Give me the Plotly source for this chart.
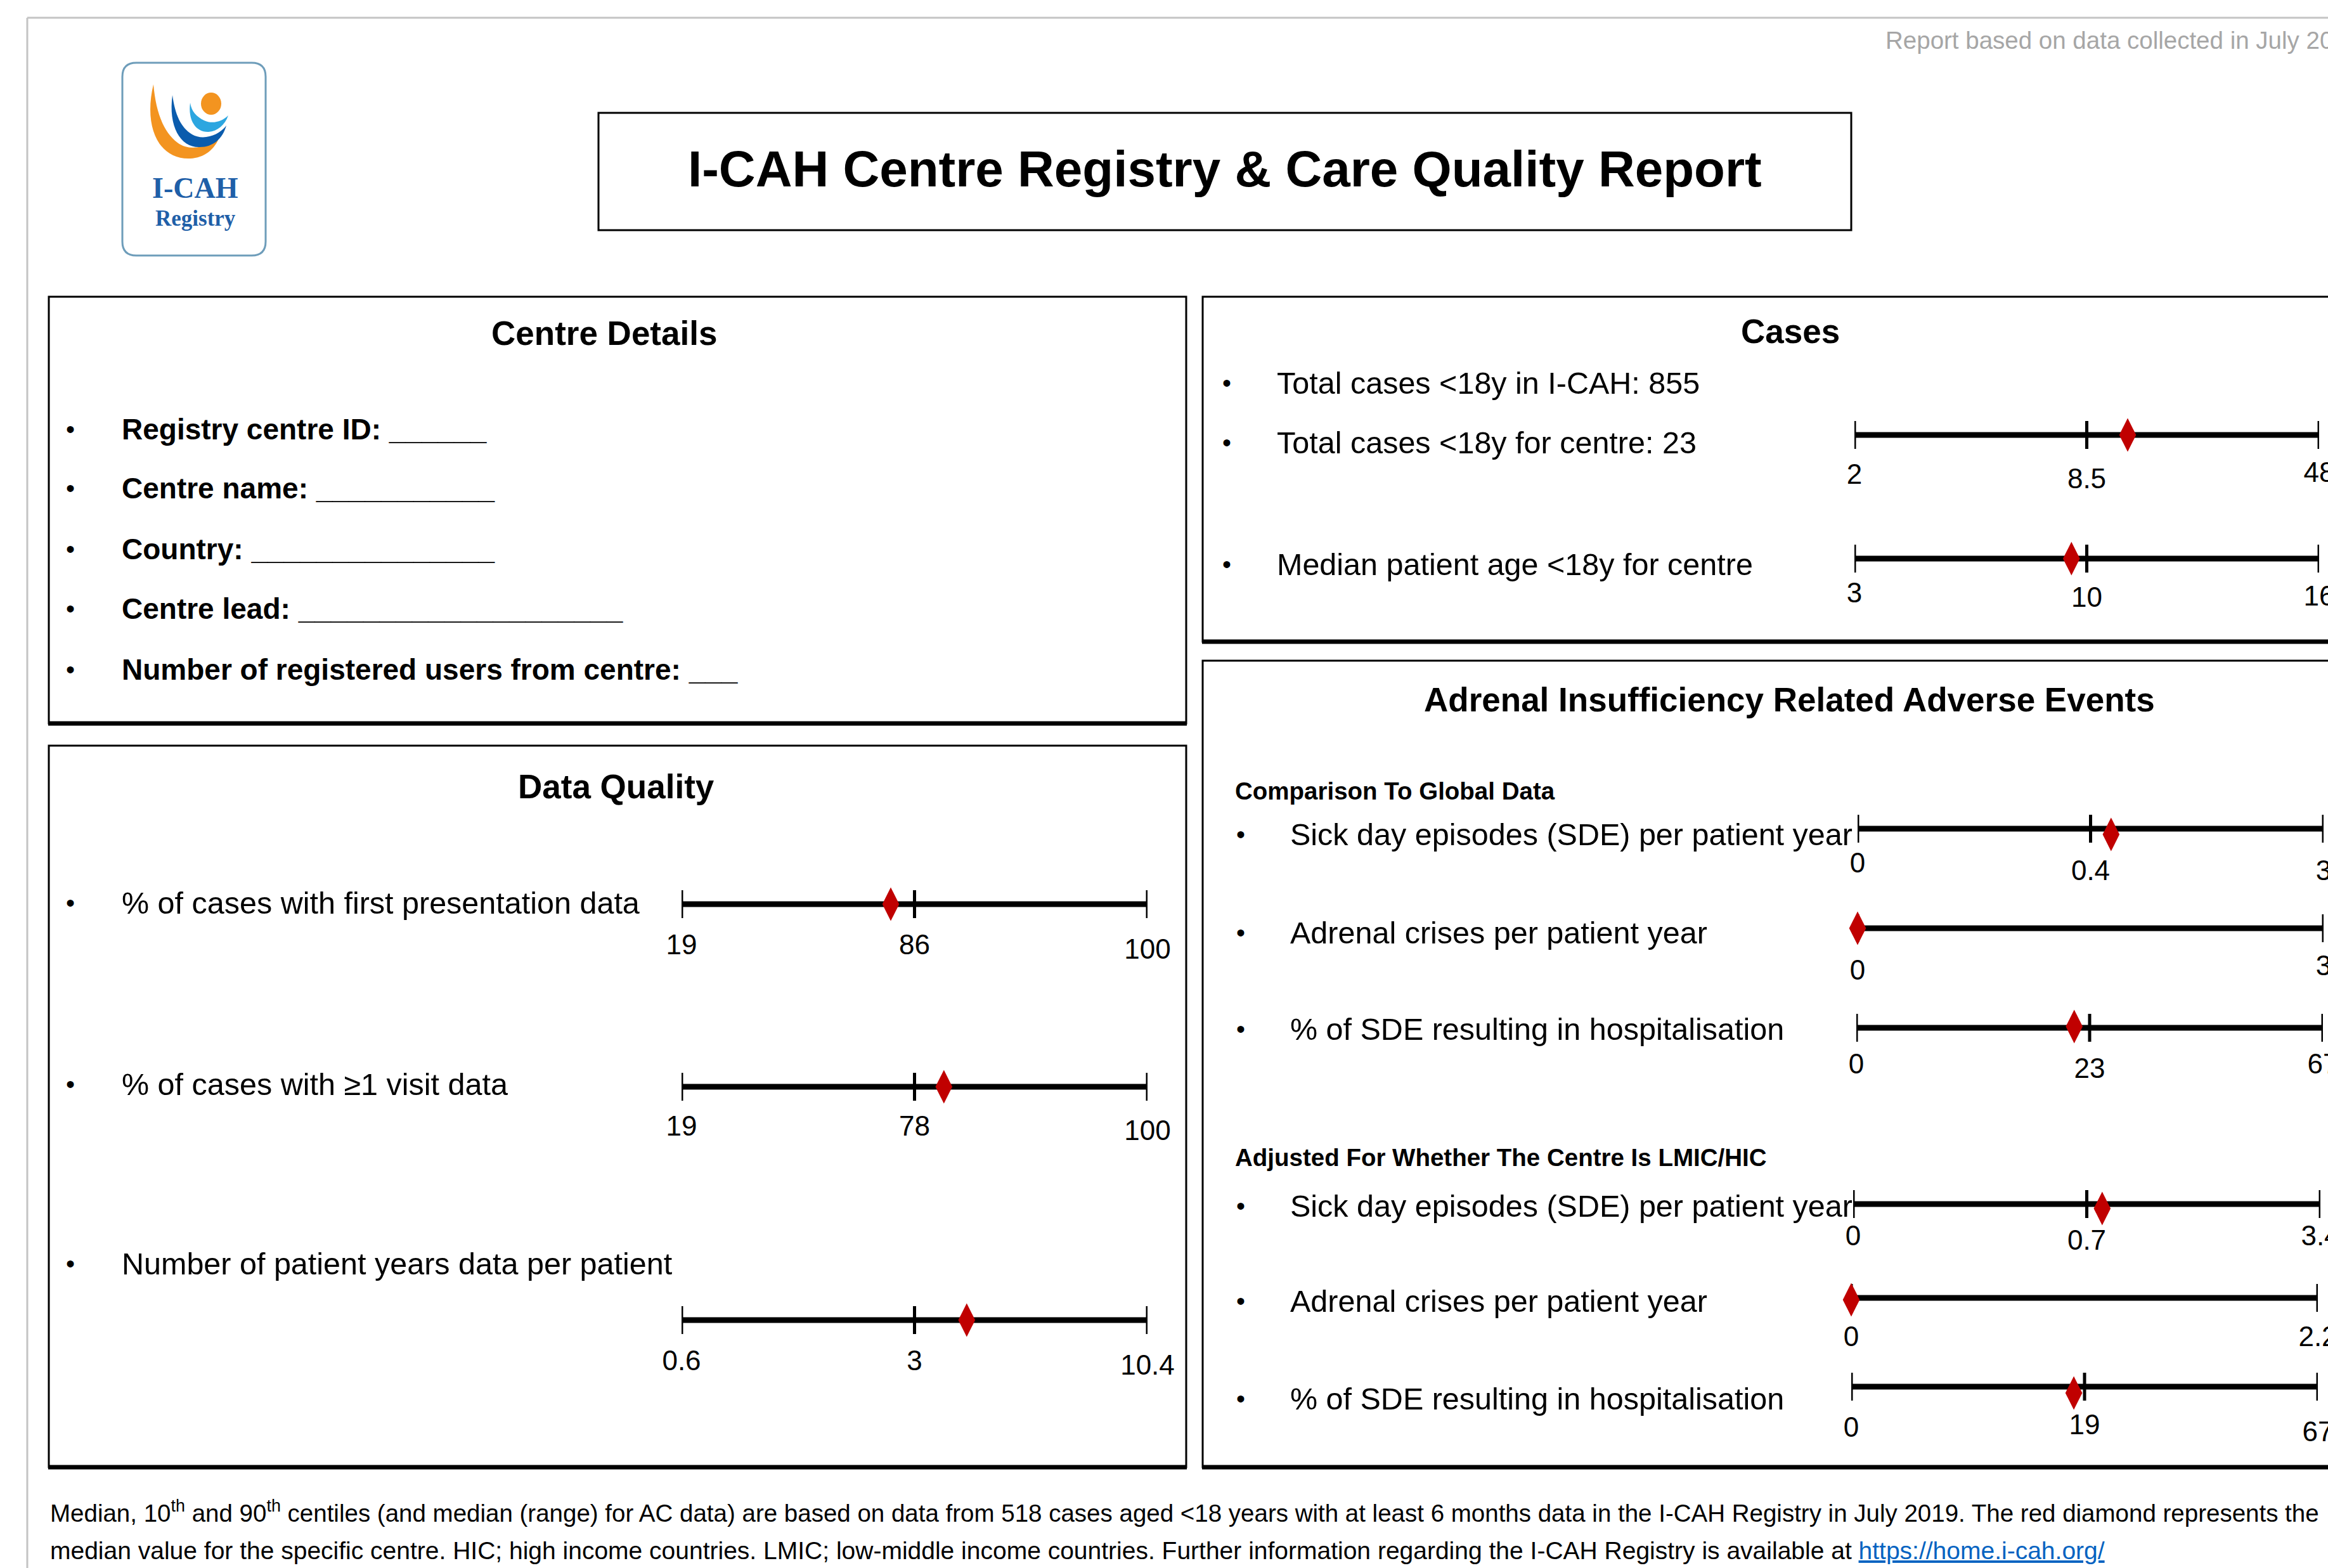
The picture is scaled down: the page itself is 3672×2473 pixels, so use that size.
import plotly.graph_objects as go

# ---------------- data ----------------
report_note = "Report based on data collected in July 2019"
main_title = "I-CAH Centre Registry &amp; Care Quality Report"

centre_fields = ["Registry centre ID:", "Centre name:", "Country:", "Centre lead:",
                 "Number of registered users from centre:"]
centre_blanks = ["______", "___________", "_______________", "____________________", "___"]

dq_items = ["% of cases with first presentation data", "% of cases with ≥1 visit data",
            "Number of patient years data per patient"]
dq_p10 = [19, 19, 0.6]
dq_median = [86, 78, 3]
dq_p90 = [100, 100, 10.4]
dq_centre_pos = [0.449, 0.563, 0.612]

cases_total_text = "Total cases &lt;18y in I-CAH: 855"
cases_items = ["Total cases &lt;18y for centre: 23", "Median patient age &lt;18y for centre"]
cases_p10 = [2, 3]
cases_median = [8.5, 10]
cases_p90 = [48, 16]
cases_centre_pos = [0.588, 0.467]

ae_items = ["Sick day episodes (SDE) per patient year", "Adrenal crises per patient year",
            "% of SDE resulting in hospitalisation"]
ae_global_low = [0, 0, 0]
ae_global_median = [0.4, 0, 23]
ae_global_high = [3, 3, 67]
ae_global_centre_pos = [0.544, 0.0, 0.467]
ae_adj_low = [0, 0, 0]
ae_adj_median = [0.7, 0, 19]
ae_adj_high = [3.4, 2.2, 67]
ae_adj_centre_pos = [0.533, 0.0, 0.477]

footer1 = ("Median, 10<sup>th</sup> and 90<sup>th</sup> centiles (and median (range) for AC data) are based on data "
           "from 518 cases aged &lt;18 years with at least 6 months data in the I-CAH Registry in July 2019. "
           "The red diamond represents the")
footer2_text = ("median value for the specific centre. HIC; high income countries. LMIC; low-middle income "
                "countries. Further information regarding the I-CAH Registry is available at ")
footer_link = "https://home.i-cah.org/"

# ---------------- layout constants ----------------
W, H = 3672, 2473
FONT = "Liberation Sans, Arial, sans-serif"
SERIF = "Liberation Serif, DejaVu Serif, serif"
RED = "#C00000"
BODY = 48.5
TICK = 44
HEAD = 53
SUB = 38.5

fig = go.Figure()
shapes = []
annots = []


def text(x, y, s, size, font=FONT, color="black", xanchor="left", yanchor="middle"):
    annots.append(dict(x=x, y=y, xref="x", yref="y", text=s, showarrow=False,
                       xanchor=xanchor, yanchor=yanchor, align="left",
                       font=dict(family=font, size=size, color=color)))


def rect(x0, y0, x1, y1, w=3, color="black", bottom=None):
    shapes.append(dict(type="rect", xref="x", yref="y", x0=x0, y0=y0, x1=x1, y1=y1,
                       line=dict(color=color, width=w), fillcolor="rgba(0,0,0,0)"))
    if bottom:
        shapes.append(dict(type="line", xref="x", yref="y", x0=x0 - 1, x1=x1 + 1, y0=y1, y1=y1,
                           line=dict(color=color, width=bottom)))


# outer grey frame
shapes.append(dict(type="line", xref="x", yref="y", x0=43, x1=W + 20, y0=28, y1=28,
                   line=dict(color="#C4C4C4", width=3)))
shapes.append(dict(type="line", xref="x", yref="y", x0=43, x1=43, y0=28, y1=H + 20,
                   line=dict(color="#C4C4C4", width=3)))

# ---------------- logo ----------------
shapes.append(dict(type="path", xref="x", yref="y",
                   path="M 215 99 L 397 99 Q 419 99 419 121 L 419 381 Q 419 403 397 403 "
                        "L 215 403 Q 193 403 193 381 L 193 121 Q 193 99 215 99 Z",
                   line=dict(color="#6E9DBA", width=3), fillcolor="white"))
shapes.append(dict(type="path", xref="x", yref="y",
                   path="M 242 133 C 226 200, 250 252, 300 250 C 322 249, 339 236, 347 214 "
                        "C 330 232, 300 240, 280 225 C 258 208, 246 178, 242 133 Z",
                   line=dict(width=0), fillcolor="#F39420"))
shapes.append(dict(type="path", xref="x", yref="y",
                   path="M 272 150 C 265 200, 285 233, 315 232 C 336 232, 351 219, 357 198 "
                        "C 345 214, 320 222, 303 212 C 285 201, 276 180, 272 150 Z",
                   line=dict(width=0), fillcolor="#0B5CAD"))
shapes.append(dict(type="path", xref="x", yref="y",
                   path="M 300 162 C 296 191, 310 209, 329 208 C 343 207, 355 197, 360 182 "
                        "C 350 192, 335 196, 322 190 C 310 184, 302 176, 300 162 Z",
                   line=dict(width=0), fillcolor="#2CA6E0"))
shapes.append(dict(type="circle", xref="x", yref="y", x0=317, x1=349, y0=146, y1=181,
                   line=dict(width=0), fillcolor="#F39420"))
text(308, 296, "<b>I-CAH</b>", 46, font=SERIF, color="#1F5FA8", xanchor="center")
text(308, 344, "<b>Registry</b>", 35, font=SERIF, color="#1F5FA8", xanchor="center")

# ---------------- header ----------------
text(2972, 63, report_note, 38.5, color="#A6A6A6")
rect(944, 178, 2920, 363, w=3)
text(1932, 266, "<b>" + main_title + "</b>", 80, xanchor="center")

# ---------------- panels ----------------
rect(77, 468, 1871, 1141, w=3, bottom=7)
rect(77, 1176, 1871, 2314, w=3, bottom=7)
rect(1897, 468, 3720, 1012, w=3, bottom=7)
rect(1897, 1042, 3720, 2314, w=3, bottom=7)

text(953, 525, "<b>Centre Details</b>", HEAD, xanchor="center")
text(972, 1240, "<b>Data Quality</b>", HEAD, xanchor="center")
text(2824, 522, "<b>Cases</b>", HEAD, xanchor="center")
text(2822, 1103, "<b>Adrenal Insufficiency Related Adverse Events</b>", HEAD, xanchor="center")
text(1946, 1247, "<b>Comparison To Global Data</b>", SUB)
text(1946, 1825, "<b>Adjusted For Whether The Centre Is LMIC/HIC</b>", SUB)

# centre details list
for f, b, yy in zip(centre_fields, centre_blanks, [677, 770, 866, 960, 1056]):
    text(102, yy, "•", 40)
    text(190, yy, "<b>" + f + " " + b + "</b>", 46)

# cases static line
text(1926, 604, "•", 40)
text(2012, 604, cases_total_text, BODY)

# ---------------- range rows ----------------
geom = [
    # left, right, line_y, text_y, label offsets (low, mid, high), diamond offset, bullet_x, text_x
    (1075, 1810, 1426, 1424, (68, 68, 75), 0, 102, 190),
    (1075, 1810, 1714, 1710, (66, 66, 73), 0, 102, 190),
    (1075, 1810, 2082, 1993, (68, 68, 75), 0, 102, 190),
    (2925, 3658, 686, 698, (66, 73, 63), 0, 1926, 2012),
    (2925, 3658, 881, 890, (58, 65, 63), 0, 1926, 2012),
    (2930, 3665, 1307, 1316, (58, 70, 70), 9, 1948, 2033),
    (2930, 3665, 1464, 1471, (70, 70, 63), 0, 1948, 2033),
    (2928, 3664, 1621, 1623, (61, 68, 61), -2, 1948, 2033),
    (2923, 3660, 1899, 1902, (54, 61, 54), 7, 1948, 2033),
    (2920, 3656, 2047, 2052, (65, 65, 65), 3, 1948, 2033),
    (2920, 3656, 2187, 2206, (68, 64, 75), 10, 1948, 2033),
]

labels = dq_items + cases_items + ae_items + ae_items
lows = dq_p10 + cases_p10 + ae_global_low + ae_adj_low
mids = dq_median + cases_median + ae_global_median + ae_adj_median
highs = dq_p90 + cases_p90 + ae_global_high + ae_adj_high
centres = dq_centre_pos + cases_centre_pos + ae_global_centre_pos + ae_adj_centre_pos


def fmt(v):
    return f"{v:g}"


layout_axes = {}
for i, (lab, lo, md, hi, cp, g) in enumerate(zip(labels, lows, mids, highs, centres, geom)):
    left, right, ly, ty, ldy, ddy, bx, tx = g
    n = i + 2
    xa, ya = f"x{n}", f"y{n}"
    layout_axes[f"xaxis{n}"] = dict(domain=[left / W, right / W], range=[0, 1], visible=False,
                                    fixedrange=True)
    layout_axes[f"yaxis{n}"] = dict(domain=[1 - (ly + 120) / H, 1 - (ly - 60) / H], range=[-120, 60],
                                    visible=False, fixedrange=True)
    show_mid = md != lo
    tpos = [0, 0.5, 1] if show_mid else [0, 1]
    ttxt = [fmt(lo), fmt(md), fmt(hi)] if show_mid else [fmt(lo), fmt(hi)]
    tdy = [-ldy[0], -ldy[1], -ldy[2]] if show_mid else [-ldy[0], -ldy[2]]
    # bar
    fig.add_trace(go.Scatter(x=[0, 1], y=[0, 0], mode="lines", xaxis=xa, yaxis=ya,
                             line=dict(color="black", width=9), cliponaxis=False, hoverinfo="skip"))
    # ticks
    tx_, ty_ = [], []
    for p in tpos:
        tx_ += [p, p, None]
        ty_ += [-22, 22, None]
    fig.add_trace(go.Scatter(x=tx_, y=ty_, mode="lines", xaxis=xa, yaxis=ya,
                             line=dict(color="black", width=5), cliponaxis=False, hoverinfo="skip"))
    # tick labels
    fig.add_trace(go.Scatter(x=tpos, y=tdy, mode="text", text=ttxt, xaxis=xa, yaxis=ya,
                             textposition="middle center", cliponaxis=False,
                             textfont=dict(family=FONT, size=TICK, color="black"), hoverinfo="skip"))
    # centre diamond
    fig.add_trace(go.Scatter(x=[cp], y=[-ddy], mode="markers", xaxis=xa, yaxis=ya, cliponaxis=False,
                             marker=dict(symbol="diamond-tall", size=38, color=RED, line=dict(width=0)),
                             hoverinfo="skip"))
    # row text
    text(bx, ty, "•", 40)
    text(tx, ty, lab, BODY)

# footer
text(77, 2384, footer1, 38.5)
text(77, 2445, footer2_text + "<a href='" + footer_link + "'><span style='color:#0563C1;"
     "text-decoration:underline'>" + footer_link + "</span></a>", 39)

fig.update_layout(
    width=W, height=H, margin=dict(l=0, r=0, t=0, b=0, pad=0),
    paper_bgcolor="white", plot_bgcolor="rgba(0,0,0,0)", showlegend=False,
    xaxis=dict(domain=[0, 1], range=[0, W], visible=False, fixedrange=True),
    yaxis=dict(domain=[0, 1], range=[H, 0], visible=False, fixedrange=True),
    shapes=shapes, annotations=annots, **layout_axes,
)
# invisible anchor trace for the page axis
fig.add_trace(go.Scatter(x=[0], y=[0], mode="markers", marker=dict(opacity=0), xaxis="x", yaxis="y",
                         hoverinfo="skip"))

fig.write_html("out.html", config={"displayModeBar": False},
               post_script="document.body.style.margin='0';document.body.style.overflow='hidden';")
